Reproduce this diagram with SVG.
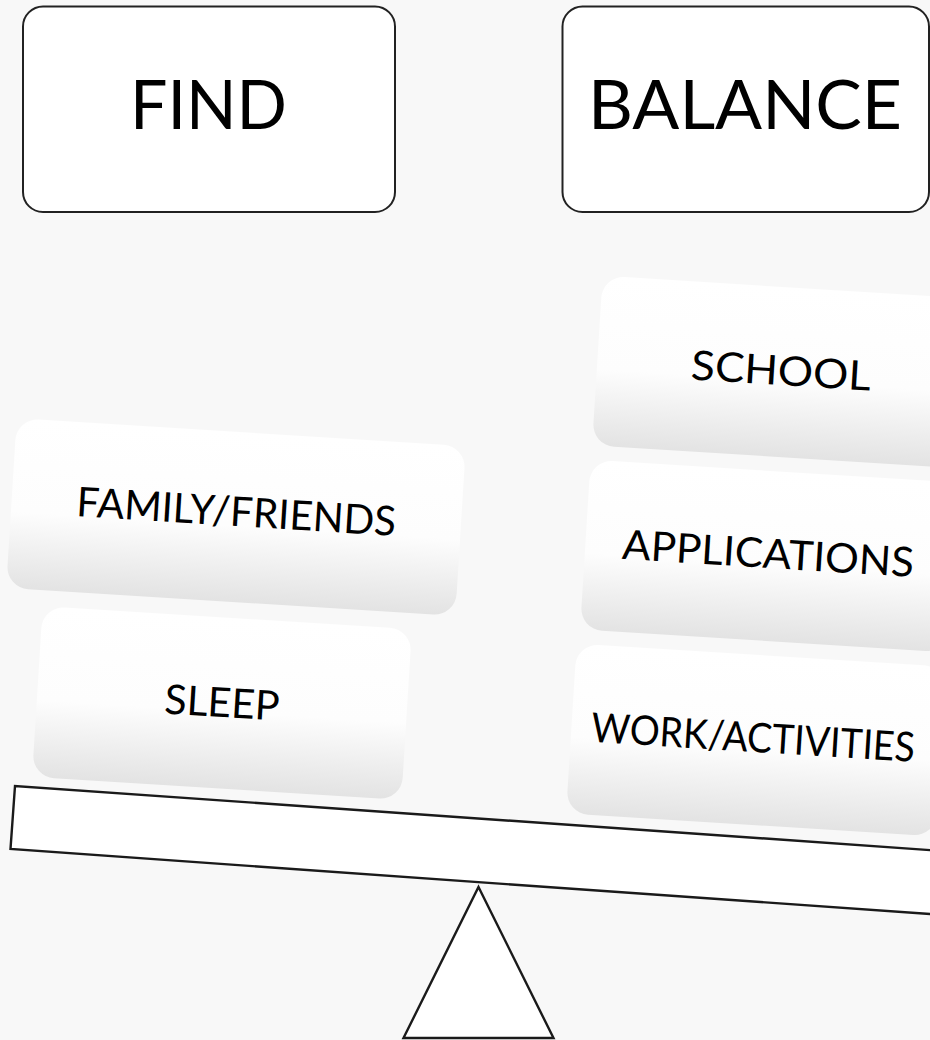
<svg xmlns="http://www.w3.org/2000/svg" width="930" height="1040" viewBox="0 0 930 1040">
<defs>
<linearGradient id="g" x1="0" y1="0" x2="0" y2="1">
<stop offset="0" stop-color="#ffffff"/>
<stop offset="0.55" stop-color="#fdfdfd"/>
<stop offset="1" stop-color="#e3e3e3"/>
</linearGradient>
</defs>
<style>
.title{fill:#ffffff;stroke:#222222;stroke-width:2}
.tt{font-family:Lato,"Open Sans","Liberation Sans",sans-serif;font-size:68px;fill:#000;text-anchor:middle}
.card{fill:url(#g)}
.ct{font-family:Lato,"Open Sans","Liberation Sans",sans-serif;font-size:41px;fill:#000;text-anchor:middle}
.plank{fill:#ffffff;stroke:#1a1a1a;stroke-width:2.4;stroke-linejoin:miter}
</style>
<rect width="930" height="1040" fill="#f8f8f8"/>
<g id="find">
<rect class="title" x="23" y="6.5" width="372" height="205.5" rx="20"/>
<text class="tt" x="208.5" y="129" textLength="157" lengthAdjust="spacingAndGlyphs">FIND</text>
</g>
<g id="balance">
<rect class="title" x="562.5" y="6.5" width="366.5" height="205.5" rx="20"/>
<text class="tt" x="745" y="129" textLength="314" lengthAdjust="spacingAndGlyphs">BALANCE</text>
</g>
<g id="family" transform="translate(236,517) rotate(3.56)">
<rect class="card" x="-225" y="-85" width="450" height="170" rx="22"/>
<text class="ct" x="0" y="9" textLength="320" lengthAdjust="spacingAndGlyphs">FAMILY/FRIENDS</text>
</g>
<g id="sleep" transform="translate(222,703) rotate(3.56)">
<rect class="card" x="-185" y="-85.5" width="370" height="171" rx="22"/>
<text class="ct" x="0" y="14" textLength="115" lengthAdjust="spacingAndGlyphs">SLEEP</text>
</g>
<g id="school" transform="translate(781,372) rotate(3.56)">
<rect class="card" x="-184" y="-85" width="368" height="170" rx="22"/>
<text class="ct" x="0" y="13" textLength="180" lengthAdjust="spacingAndGlyphs">SCHOOL</text>
</g>
<g id="applications" transform="translate(769,556) rotate(3.56)">
<rect class="card" x="-184" y="-85" width="368" height="170" rx="22"/>
<text class="ct" x="-1" y="12" textLength="292" lengthAdjust="spacingAndGlyphs">APPLICATIONS</text>
</g>
<g id="work" transform="translate(756,740) rotate(3.56)">
<rect class="card" x="-185" y="-85" width="370" height="170" rx="22"/>
<text class="ct" x="-3" y="12" font-size="39" textLength="324" lengthAdjust="spacingAndGlyphs">WORK/ACTIVITIES</text>
</g>
<g id="seesaw">
<polygon class="plank" points="15,786 10.5,849 1000,919 1000,855"/>
<polygon class="plank" points="478.5,887 553.5,1038 403.5,1038"/>
</g>
</svg>
